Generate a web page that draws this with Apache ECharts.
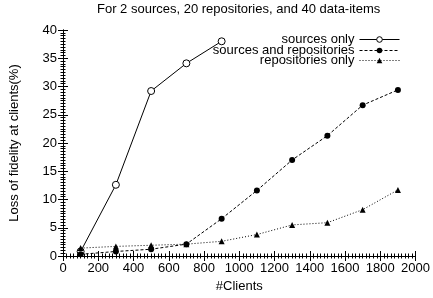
<!DOCTYPE html>
<html>
<head>
<meta charset="utf-8">
<script src="https://cdn.jsdelivr.net/npm/echarts@6/dist/echarts.min.js"></script>
<style>
html,body{margin:0;padding:0;background:#fff;}
#chart{width:433px;height:298px;}
</style>
</head>
<body>
<div id="chart"></div>
<script>
// 数据
const clients = [100, 300, 500, 700, 900, 1100, 1300, 1500, 1700, 1900];
const sourcesOnly = [0.8, 12.6, 29.2, 34.1, 38.0];
const sourcesAndRepos = [0.3, 0.8, 1.2, 2.1, 6.6, 11.6, 17.0, 21.3, 26.7, 29.4];
const reposOnly = [1.4, 1.7, 1.9, 2.1, 2.6, 3.8, 5.5, 5.9, 8.2, 11.7];

const font = 'Liberation Sans, Arial, Helvetica, sans-serif';
const fs = 13;

function pairs(vals){
	return vals.map((v, i) => [clients[i], v]);
}

// 坐标轴公共样式
function axisBase(){
	return {
		axisLine: {show: true, lineStyle: {color: '#000', width: 1}},
		axisTick: {show: true, inside: true, length: 5, lineStyle: {color: '#000'}},
		minorTick: {show: true, splitNumber: 10, length: 2.5, lineStyle: {color: '#000'}},
		splitLine: {show: false},
		axisLabel: {color: '#000', fontFamily: font, fontSize: fs, margin: 6, formatter: v => String(v)}
	};
}

const option = {
	animation: false,
	backgroundColor: '#fff',
	title: {
		text: 'For 2 sources, 20 repositories, and 40 data-items',
		left: 97, top: 3, padding: 0,
		textStyle: {color: '#000', fontFamily: font, fontSize: fs, fontWeight: 'normal'}
	},
	legend: [
		{data: ['sources only'], top: 33},
		{data: ['sources and repositories'], top: 44},
		{data: ['repositories only'], top: 54}
	].map(l => Object.assign(l, {
		right: 33, align: 'right', itemWidth: 40, itemHeight: 7, padding: 0,
		lineStyle: {width: 1},
		itemStyle: {borderWidth: 1},
		textStyle: {color: '#000', fontFamily: font, fontSize: fs}
	})),
	grid: {left: 61, right: 17, top: 30, bottom: 42},
	xAxis: [
		Object.assign(axisBase(), {
			type: 'value', min: 0, max: 2000, interval: 200,
			name: '#Clients', nameLocation: 'middle', nameGap: 24,
			nameTextStyle: {color: '#000', fontFamily: font, fontSize: fs}
		}),
		Object.assign(axisBase(), {
			type: 'value', min: 0, max: 2000, interval: 200, position: 'top',
			axisLabel: {show: false}
		})
	],
	yAxis: [
		Object.assign(axisBase(), {
			type: 'value', min: 0, max: 40, interval: 5,
			name: 'Loss of fidelity at clients(%)', nameLocation: 'middle', nameGap: 42,
			nameTextStyle: {color: '#000', fontFamily: font, fontSize: fs}
		}),
		Object.assign(axisBase(), {
			type: 'value', min: 0, max: 40, interval: 5, position: 'right',
			axisLabel: {show: false}
		})
	],
	series: [
		{
			name: 'sources only', type: 'line', data: pairs(sourcesOnly),
			symbol: 'circle', symbolSize: 7,
			lineStyle: {color: '#000', width: 1, type: 'solid'},
			itemStyle: {color: '#fff', borderColor: '#000', borderWidth: 1}
		},
		{
			name: 'sources and repositories', type: 'line', data: pairs(sourcesAndRepos),
			symbol: 'circle', symbolSize: 6,
			lineStyle: {color: '#000', width: 1, type: [3, 2]},
			itemStyle: {color: '#000', borderWidth: 0}
		},
		{
			name: 'repositories only', type: 'line', data: pairs(reposOnly),
			symbol: 'triangle', symbolSize: 6,
			lineStyle: {color: '#000', width: 1, type: [1, 2]},
			itemStyle: {color: '#000', borderWidth: 0}
		}
	]
};

let myChart = echarts.init(document.getElementById('chart'));
myChart.setOption(option);
</script>
</body>
</html>
